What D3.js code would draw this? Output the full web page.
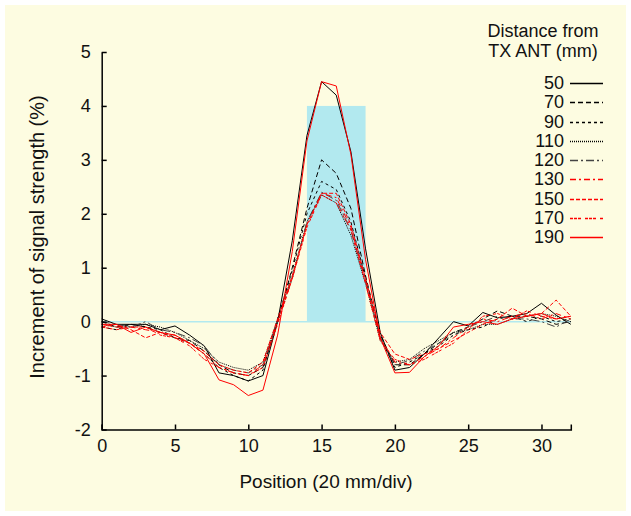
<!DOCTYPE html>
<html>
<head>
<meta charset="utf-8">
<script src="https://cdn.jsdelivr.net/npm/d3@7"></script>
<style>
  body { margin: 0; background: #fff; }
  text { font-family: "Liberation Sans", Arial, sans-serif; }
</style>
</head>
<body>
<div id="chart"></div>
<script>
// positions 0..32 (20 mm/div)
var positions = d3.range(0, 33)
var distances = ["50", "70", "90", "110", "120", "130", "150", "170", "190"]

var s50  = [0.05, -0.05, -0.05, -0.05, -0.15, -0.08, -0.25, -0.45, -0.95, -1.0, -1.1, -1.0, 0.0, 1.5, 3.45, 4.45, 4.2, 3.15, 1.35, -0.2, -0.9, -0.85, -0.6, -0.3, 0.0, -0.08, 0.17, 0.07, 0.1, 0.15, 0.34, 0.12, -0.05]
var s70  = [0.0, -0.1, -0.05, -0.1, -0.2, -0.3, -0.35, -0.55, -0.8, -0.95, -1.0, -0.85, 0.0, 1.0, 2.1, 3.0, 2.75, 2.1, 0.85, -0.25, -0.8, -0.8, -0.6, -0.4, -0.2, -0.1, 0.05, 0.2, 0.1, 0.1, 0.05, -0.05, 0.0]
var s90  = [-0.1, -0.15, -0.05, -0.1, -0.15, -0.3, -0.4, -0.6, -0.85, -1.0, -1.1, -0.9, 0.05, 0.95, 2.0, 2.6, 2.45, 1.85, 0.8, -0.3, -0.85, -0.75, -0.6, -0.45, -0.25, -0.15, -0.1, 0.05, 0.1, 0.0, 0.1, 0.0, 0.05]
var s110 = [-0.05, -0.1, -0.1, -0.05, -0.1, -0.2, -0.35, -0.5, -0.75, -0.85, -0.9, -0.75, 0.05, 0.85, 1.85, 2.35, 2.2, 1.6, 0.7, -0.35, -0.75, -0.7, -0.5, -0.35, -0.2, -0.15, -0.05, -0.05, 0.05, 0.1, 0.15, 0.1, 0.0]
var s120 = [0.0, -0.05, -0.1, 0.0, -0.15, -0.2, -0.3, -0.45, -0.8, -0.9, -0.95, -0.8, 0.0, 0.8, 1.85, 2.4, 2.25, 1.7, 0.75, -0.3, -0.8, -0.72, -0.55, -0.4, -0.25, -0.1, 0.0, 0.1, 0.05, 0.05, 0.0, -0.1, 0.05]
var s130 = [-0.05, -0.1, -0.1, -0.15, -0.2, -0.25, -0.4, -0.6, -0.85, -0.95, -1.0, -0.8, 0.0, 0.8, 1.8, 2.38, 2.3, 1.75, 0.75, -0.3, -0.75, -0.8, -0.65, -0.5, -0.3, -0.1, 0.05, 0.0, 0.1, 0.15, 0.05, 0.15, 0.05]
var s150 = [-0.1, -0.05, -0.15, -0.3, -0.2, -0.3, -0.4, -0.55, -0.8, -0.9, -0.95, -0.75, 0.05, 0.85, 1.8, 2.38, 2.38, 1.8, 0.8, -0.2, -0.6, -0.7, -0.6, -0.5, -0.35, -0.2, -0.05, 0.05, 0.25, 0.1, 0.15, 0.4, 0.1]
var s170 = [-0.1, -0.15, -0.1, -0.1, -0.25, -0.3, -0.45, -0.7, -0.85, -0.95, -1.0, -0.85, -0.05, 0.8, 1.75, 2.35, 2.2, 1.7, 0.7, -0.35, -0.7, -0.8, -0.7, -0.55, -0.4, -0.15, 0.1, 0.15, 0.05, 0.2, 0.1, 0.05, 0.1]
var s190 = [-0.05, -0.05, -0.2, -0.1, -0.2, -0.25, -0.4, -0.6, -1.08, -1.17, -1.37, -1.27, -0.25, 1.3, 3.35, 4.45, 4.37, 3.1, 1.15, -0.3, -0.95, -0.94, -0.65, -0.45, -0.1, -0.05, 0.0, -0.05, 0.05, 0.1, 0.15, 0.05, 0.1]

// antenna region (shaded)
var antennaStart = 14, antennaEnd = 18, antennaLevel = 4

var xTicks = [0, 5, 10, 15, 20, 25, 30]
var yTicks = [-2, -1, 0, 1, 2, 3, 4, 5]

var seriesValues = [s50, s70, s90, s110, s120, s130, s150, s170, s190]
var colors = ["#000000", "#000000", "#000000", "#000000", "#444444", "#ff0000", "#ff0000", "#ff0000", "#ff0000"]
var dashes = [null, "5,3", "3,3", "1,1", "8,3,2,3", "6,3,2,3", "4,2", "3,1,3,1,3,4", null]

var width = 631, height = 516

var svg = d3.select("#chart")
    .append("svg")
    .attr("width", width)
    .attr("height", height)

svg.append("rect")
    .attr("x", 5).attr("y", 5)
    .attr("width", 621).attr("height", 506)
    .attr("fill", "#fdfce1")

var x = d3.scaleLinear().domain([0, 32]).range([101.7, 570.8])
var y = d3.scaleLinear().domain([-2, 5]).range([429.5, 52])

// shaded antenna box + zero line
svg.append("rect")
    .attr("x", x(antennaStart))
    .attr("y", y(antennaLevel))
    .attr("width", x(antennaEnd) - x(antennaStart))
    .attr("height", y(0) - y(antennaLevel))
    .attr("fill", "#b2e9ef")
svg.append("line")
    .attr("x1", x(0)).attr("x2", x(32))
    .attr("y1", y(0)).attr("y2", y(0))
    .attr("stroke", "#b2e9ef")
    .attr("stroke-width", 1.5)

var line = d3.line()
    .x((d, i) => x(positions[i]))
    .y(d => y(d))

svg.append("g")
    .selectAll("path")
    .data(seriesValues)
    .enter()
    .append("path")
    .attr("d", d => line(d))
    .attr("fill", "none")
    .attr("stroke", (d, i) => colors[i])
    .attr("stroke-width", 1)
    .attr("stroke-dasharray", (d, i) => dashes[i])

// axes, ticks pointing inward
svg.append("g")
    .attr("transform", "translate(0," + y(-2) + ")")
    .call(d3.axisBottom(x).tickValues(xTicks).tickFormat(d => String(d))
        .tickSize(-5).tickSizeOuter(-5).tickPadding(10))
svg.append("g")
    .attr("transform", "translate(" + x(0) + ",0)")
    .call(d3.axisLeft(y).tickValues(yTicks).tickFormat(d => String(d))
        .tickSize(-5).tickSizeOuter(0).tickPadding(11))

svg.selectAll(".domain, .tick line")
    .attr("stroke", "#000")
    .attr("stroke-width", 1.5)
svg.selectAll(".tick text")
    .style("font-size", "18px")
    .style("font-family", "Liberation Sans, Arial, sans-serif")
    .attr("fill", "#111")

svg.append("text")
    .attr("x", 326)
    .attr("y", 488)
    .attr("text-anchor", "middle")
    .style("font-size", "19px")
    .attr("fill", "#111")
    .text("Position (20 mm/div)")

svg.append("text")
    .attr("transform", "translate(44,237) rotate(-90)")
    .attr("text-anchor", "middle")
    .style("font-size", "20px")
    .attr("fill", "#111")
    .text("Increment of signal strength (%)")

// legend
svg.append("text")
    .attr("x", 543).attr("y", 37)
    .attr("text-anchor", "middle")
    .style("font-size", "18px")
    .attr("fill", "#111")
    .text("Distance from")
svg.append("text")
    .attr("x", 543).attr("y", 57)
    .attr("text-anchor", "middle")
    .style("font-size", "18px")
    .attr("fill", "#111")
    .text("TX ANT (mm)")

var legend = svg.append("g")
    .selectAll("g")
    .data(distances)
    .enter()
    .append("g")
    .attr("transform", (d, i) => "translate(0," + Math.round(83 + i * 19.25) + ")")
legend.append("text")
    .attr("x", 564)
    .attr("dy", "0.35em")
    .attr("text-anchor", "end")
    .style("font-size", "18px")
    .attr("fill", "#111")
    .text(d => d)
legend.append("line")
    .attr("x1", 570).attr("x2", 603)
    .attr("y1", 0.5).attr("y2", 0.5)
    .style("stroke", d => colors[distances.indexOf(d)])
    .style("stroke-width", 1.3)
    .style("stroke-dasharray", d => dashes[distances.indexOf(d)])
</script>
</body>
</html>
